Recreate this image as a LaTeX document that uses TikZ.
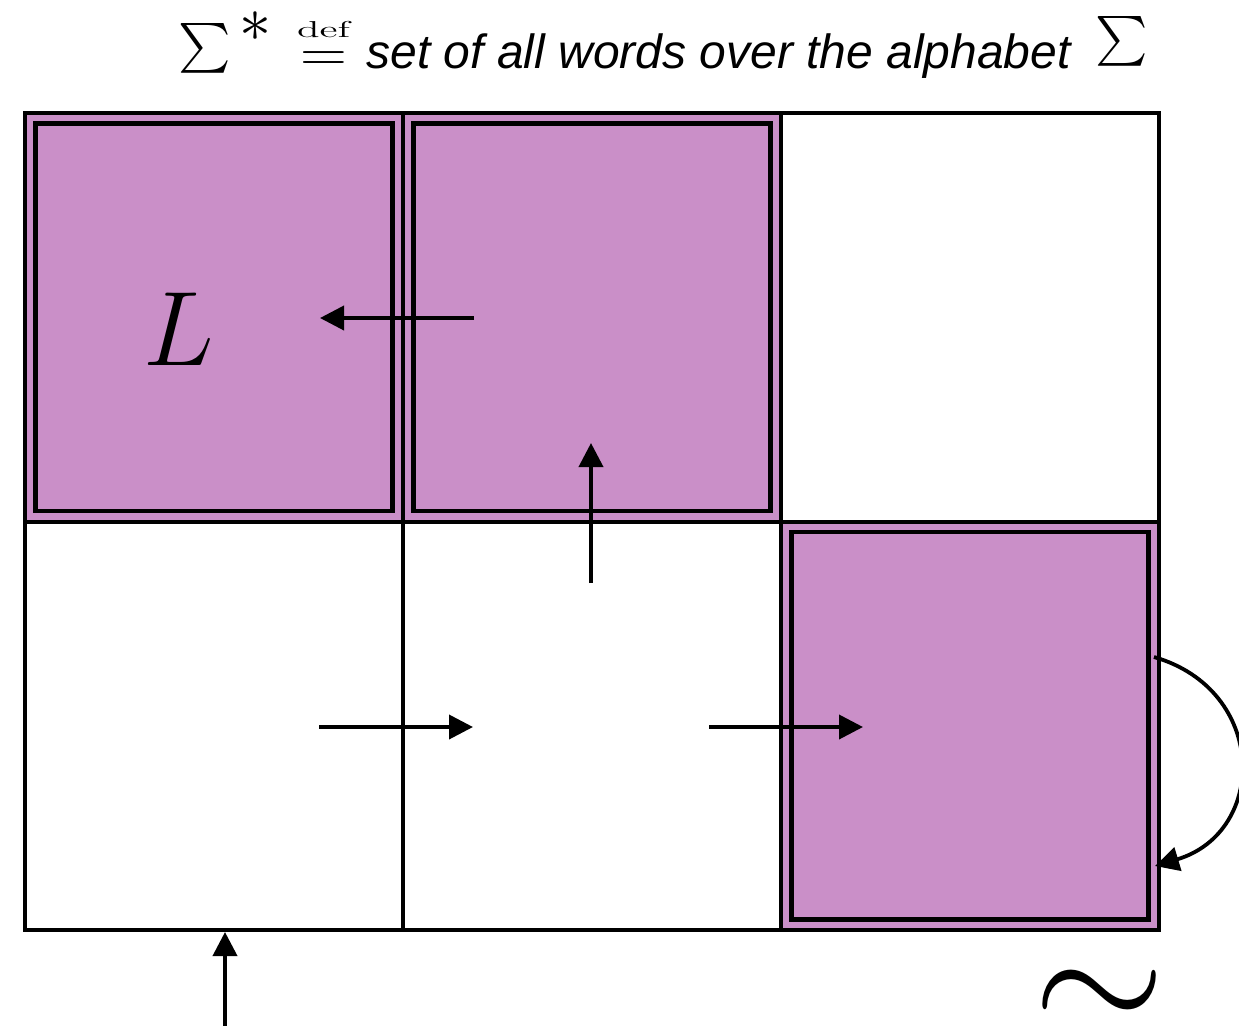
\RequirePackage{fix-cm}
\documentclass[tikz,border=0pt]{standalone}
\usepackage{amsmath}
\usepackage{graphicx}
\usepackage{fontspec}
\newfontfamily\helv{Liberation Sans}
\usetikzlibrary{arrows.meta}
\definecolor{cellpurple}{RGB}{202,143,200}
\begin{document}
\begin{tikzpicture}[x=0.5pt,y=-0.5pt,
  cell/.style={draw=black, line width=2pt, minimum width=189pt, minimum height=204.25pt, inner sep=0pt, outer sep=0pt},
  marked/.style={cell, fill=cellpurple},
  innerbox/.style={draw=black, line width=2.2pt},
  arr/.style={line width=1.9pt, -{Triangle[length=12pt,width=12pt]}},
  lbl/.style={inner sep=0pt}]
\useasboundingbox (0,0) rectangle (1239,1025);
% cells
\node[marked] (c00) at (214,317.25) {};
\node[marked] (c10) at (592,317.25) {};
\node[cell]   (c20) at (970,317.25) {};
\node[cell]   (c01) at (214,725.75) {};
\node[cell]   (c11) at (592,725.75) {};
\node[marked] (c21) at (970,725.75) {};
% inner boxes of the marked cells
\foreach \c in {c00,c10,c21}{
  \draw[innerbox] ([shift={(10.5,10.5)}]\c.north west) rectangle ([shift={(-10.5,-10.5)}]\c.south east);
}
% labels
\node[lbl, font=\fontsize{53pt}{60pt}\selectfont] (L) at (179,329) {$L$};
% title line
\node[lbl, font=\fontsize{26pt}{30pt}\selectfont] (sig1) at (205,48.5) {$\sum$};
\node[lbl, font=\fontsize{32pt}{36pt}\selectfont] (ast) at (255,27) {$\ast$};
\node[lbl, font=\fontsize{11.5pt}{14pt}\selectfont] (def) at (323.5,30) {\scalebox{1.8}[1]{def}};
\node[lbl, font=\fontsize{28pt}{32pt}\selectfont] (eq) at (323.5,62) {\scalebox{1.16}[1]{$=$}};
\node[lbl, anchor=base west, font=\fontsize{24pt}{28pt}\selectfont\helv\itshape] (title) at (366,68)
  {set of all words over the alphabet};
\node[lbl, font=\fontsize{26pt}{30pt}\selectfont] (sig2) at (1122,41) {$\sum$};
\node[lbl, font=\fontsize{85pt}{90pt}\selectfont] (sim) at (1100,1001) {$\sim$};
% arrow ends
\coordinate (a1s) at (474,318); \coordinate (a1e) at (320,318);
\coordinate (a2s) at (591,583); \coordinate (a2e) at (591,443);
\coordinate (a3s) at (319,727); \coordinate (a3e) at (473,727);
\coordinate (a4s) at (709,727); \coordinate (a4e) at (863,727);
\coordinate (a5s) at (225,1030); \coordinate (a5e) at (225,932);
\coordinate (a6s) at (1154,657); \coordinate (a6e) at (1155,866);
\draw[arr] (a1s) -- (a1e);
\draw[arr] (a2s) -- (a2e);
\draw[arr] (a3s) -- (a3e);
\draw[arr] (a4s) -- (a4e);
\draw[arr] (a5s) -- (a5e);
\draw[arr] (a6s) .. controls (1268,690) and (1268,832) .. (a6e);
\end{tikzpicture}
\end{document}
